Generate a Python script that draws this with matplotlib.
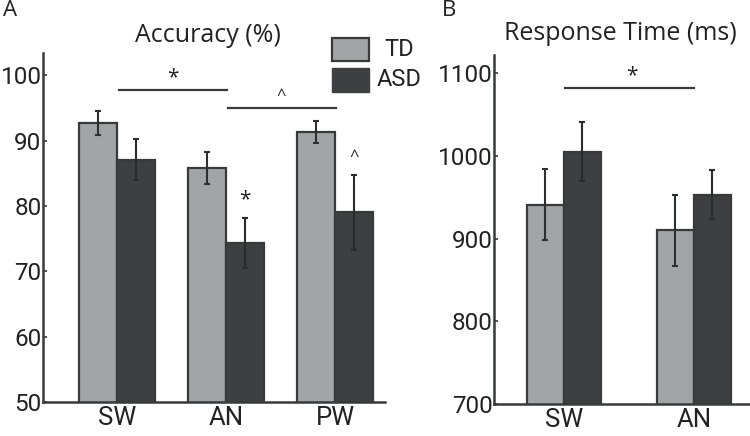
import matplotlib
matplotlib.use("Agg")
import matplotlib.pyplot as plt
import numpy as np
from matplotlib.patches import Rectangle

# data
cond_a = ["SW", "AN", "PW"]
td_acc = [92.7, 85.8, 91.3]
td_acc_err = [1.8, 2.4, 1.7]
asd_acc = [87.1, 74.3, 79.0]
asd_acc_err = [3.1, 3.8, 5.8]

cond_b = ["SW", "AN"]
td_rt = [941, 910]
td_rt_err = [43, 43]
asd_rt = [1005, 953]
asd_rt_err = [36, 30]

# significance: (from group, to group, height, mark)
sig_a = [(0, 1, 97.7, "*"), (1, 2, 95.0, "^")]
sig_b = [(0, 1, 1082.5, "*")]

td_col = "#a2a4a8"
asd_col = "#3e3f42"
edge = "#38393b"
narrow = ["Liberation Sans Narrow", "Roboto", "DejaVu Sans"]
title_font = ["Open Sans", "DejaVu Sans"]
tick_fs = 18.5
ytick_fs = 17.5

fig = plt.figure(figsize=(7.5, 4.36), dpi=100)
ax_a = fig.add_axes([43/750, 1-402/436, (385-43)/750, (402-53)/436])
ax_b = fig.add_axes([494/750, 1-404/436, (750-494)/750, (404-55)/436])


def draw(ax, cats, td, td_err, asd, asd_err, w):
    x = np.arange(len(cats))
    ax.bar(x - w/2, td, w, color=td_col, edgecolor=edge, linewidth=1.6, zorder=2)
    ax.bar(x + w/2, asd, w, color=asd_col, edgecolor=edge, linewidth=1.6, zorder=2)
    ax.errorbar(x - w/2, td, yerr=td_err, fmt="none", ecolor="#2e2f31",
                elinewidth=1.5, capsize=2.5, capthick=1.5, zorder=3)
    ax.errorbar(x + w/2, asd, yerr=asd_err, fmt="none", ecolor="#2a2b2d",
                elinewidth=1.5, capsize=2.5, capthick=1.5, zorder=3)
    ax.set_xticks(x)
    ax.set_xticklabels(cats, family=narrow, fontsize=tick_fs, color="#222")
    for s in ["top", "right"]:
        ax.spines[s].set_visible(False)
    for s in ["left", "bottom"]:
        ax.spines[s].set_linewidth(1.8)
        ax.spines[s].set_color(edge)
    ax.tick_params(axis="x", length=0, pad=3)
    ax.tick_params(axis="y", direction="in", length=3, width=1.2, color=edge, pad=1)
    return x


w_a = 0.349
x_a = draw(ax_a, cond_a, td_acc, td_acc_err, asd_acc, asd_acc_err, w_a)
ax_a.set_xlim(-0.679, 2.459)
ax_a.set_ylim(50, 103.4)
ax_a.set_yticks([50, 60, 70, 80, 90, 100])
ax_a.set_yticklabels(["50", "60", "70", "80", "90", "100"], family=narrow,
                     fontsize=ytick_fs, color="#222")
for g0, g1, h, m in sig_a:
    ax_a.plot([g0 + 0.02, g1 + 0.01], [h, h], color=edge, lw=1.6, clip_on=False)
    ax_a.text((g0 + g1) / 2 + 0.01, h + (0.3 if m == "*" else 0.6), m, ha="center",
              va="bottom", fontsize=15 if m == "*" else 12, family=title_font, color="#222")
# marks above ASD bars
ax_a.text(x_a[1] + w_a/2, asd_acc[1] + asd_acc_err[1] + 1.2, "*", ha="center", va="bottom",
          fontsize=15, family=title_font, color="#222")
ax_a.text(x_a[2] + w_a/2, asd_acc[2] + asd_acc_err[2] + 1.4, "^", ha="center", va="bottom",
          fontsize=12, family=title_font, color="#222")

w_b = 0.285
x_b = draw(ax_b, cond_b, td_rt, td_rt_err, asd_rt, asd_rt_err, w_b)
ax_b.set_xlim(-0.538, 1.431)
ax_b.set_ylim(700, 1121.8)
ax_b.set_yticks([700, 800, 900, 1000, 1100])
ax_b.set_yticklabels(["700", "800", "900", "1000", "1100"], family=narrow,
                     fontsize=ytick_fs, color="#222")
for g0, g1, h, m in sig_b:
    ax_b.plot([g0 + 0.01, g1], [h, h], color=edge, lw=1.6, clip_on=False)
    ax_b.text((g0 + g1) / 2 + 0.02, h + 2, m, ha="center", va="bottom",
              fontsize=15, family=title_font, color="#222")

# titles and panel letters
fig.text(208/750, 1-35/436, "Accuracy (%)", ha="center", va="center",
         fontsize=18, family=title_font, color="#222")
fig.text(620/750, 1-33/436, "Response Time (ms)", ha="center", va="center",
         fontsize=18, family=title_font, color="#222")
fig.text(3/750, 1-11/436, "A", ha="left", va="center", fontsize=16, family=title_font, color="#222")
fig.text(442/750, 1-11/436, "B", ha="left", va="center", fontsize=16, family=title_font, color="#222")

# legend drawn by hand
fig.patches.append(Rectangle((332/750, 1-61/436), 37/750, 23/436, transform=fig.transFigure,
                             facecolor=td_col, edgecolor=edge, linewidth=1.6))
fig.patches.append(Rectangle((332/750, 1-92/436), 37/750, 24/436, transform=fig.transFigure,
                             facecolor=asd_col, edgecolor=asd_col, linewidth=1.0))
fig.text(399/750, 1-50/436, "TD", ha="center", va="center", fontsize=17, family=narrow, color="#222")
fig.text(399/750, 1-80/436, "ASD", ha="center", va="center", fontsize=17, family=narrow, color="#222")

fig.savefig("out.png", dpi=100)
